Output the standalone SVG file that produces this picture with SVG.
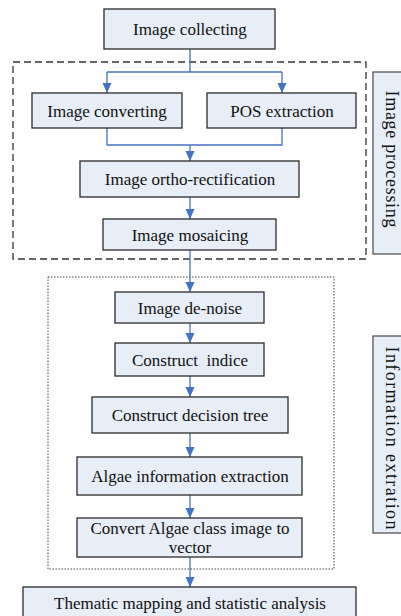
<svg xmlns="http://www.w3.org/2000/svg" width="401" height="616" viewBox="0 0 401 616">
<defs>
<marker id="ah" markerWidth="10" markerHeight="10" refX="10" refY="5" orient="auto" markerUnits="userSpaceOnUse">
<path d="M0,0.5 L10,5 L0,9.5 Z" fill="#4472C4"/>
</marker>
<style>
.node{fill:#E8EEF7;stroke:#2b2b2b;stroke-width:1.3}
.lab{fill:#E8EEF7;stroke:#555;stroke-width:1.3}
.t{font-family:"Liberation Serif","Times New Roman",serif;font-size:17px;fill:#111;text-anchor:middle}
.v{font-family:"Liberation Serif","Times New Roman",serif;font-size:18px;fill:#111;text-anchor:middle}
.c{fill:none;stroke:#4472C4;stroke-width:1.3}
.ca{fill:none;stroke:#4472C4;stroke-width:1.3;marker-end:url(#ah)}
</style>
</defs>
<rect width="401" height="616" fill="#fff"/>
<g id="group-image-processing">
<rect x="13" y="62" width="353" height="197" fill="none" stroke="#333" stroke-width="1.3" stroke-dasharray="7,4"/>
</g>
<g id="group-information-extraction">
<rect x="48" y="277" width="286" height="292" fill="none" stroke="#444" stroke-width="1" stroke-dasharray="1.5,1.5"/>
</g>
<g id="label-image-processing">
<rect class="lab" x="373" y="72" width="34" height="182"/>
<text class="v" transform="translate(386,159) rotate(90)" textLength="137" lengthAdjust="spacing">Image processing</text>
</g>
<g id="label-information-extration">
<rect class="lab" x="373" y="336" width="34" height="197"/>
<text class="v" transform="translate(386,438) rotate(90)" textLength="183" lengthAdjust="spacing">Information extration</text>
</g>
<g id="connectors">
<path class="c" d="M190,49 V72 M107,72 H282"/>
<path class="ca" d="M107,72 V93"/>
<path class="ca" d="M282,72 V93"/>
<path class="c" d="M107,128 V145 H282 V128"/>
<path class="ca" d="M190,145 V161"/>
<path class="ca" d="M190,197 V219"/>
<path class="ca" d="M190,250 V292"/>
<path class="ca" d="M190,323 V343"/>
<path class="ca" d="M190,376 V397"/>
<path class="ca" d="M190,433 V457"/>
<path class="ca" d="M190,495 V518"/>
<path class="ca" d="M190,557 V587"/>
</g>
<g id="n-image-collecting">
<rect class="node" x="104" y="9" width="171" height="40"/>
<text class="t" x="190" y="35">Image collecting</text>
</g>
<g id="n-image-converting">
<rect class="node" x="32" y="93" width="150" height="35"/>
<text class="t" x="107" y="116.5">Image converting</text>
</g>
<g id="n-pos-extraction">
<rect class="node" x="207" y="93" width="149" height="35"/>
<text class="t" x="282" y="116.5">POS extraction</text>
</g>
<g id="n-ortho">
<rect class="node" x="80" y="161" width="219" height="36"/>
<text class="t" x="190" y="185">Image ortho-rectification</text>
</g>
<g id="n-mosaicing">
<rect class="node" x="103" y="219" width="173" height="31"/>
<text class="t" x="190" y="240.5">Image mosaicing</text>
</g>
<g id="n-denoise">
<rect class="node" x="115" y="292" width="149" height="31"/>
<text class="t" x="190" y="313.5">Image de-noise</text>
</g>
<g id="n-indice">
<rect class="node" x="115" y="343" width="149" height="33"/>
<text class="t" x="190" y="365.5" xml:space="preserve" style="white-space:pre">Construct  indice</text>
</g>
<g id="n-decision-tree">
<rect class="node" x="92" y="397" width="196" height="36"/>
<text class="t" x="190" y="421">Construct decision tree</text>
</g>
<g id="n-algae-extraction">
<rect class="node" x="77" y="457" width="225" height="38"/>
<text class="t" x="190" y="482">Algae information extraction</text>
</g>
<g id="n-convert">
<rect class="node" x="77" y="518" width="225" height="39"/>
<text class="t" x="190" y="533.5">Convert Algae class image to</text>
<text class="t" x="190" y="552.5">vector</text>
</g>
<g id="n-thematic">
<rect class="node" x="23" y="587" width="333" height="35"/>
<text class="t" x="190" y="608.5">Thematic mapping and statistic analysis</text>
</g>
</svg>
